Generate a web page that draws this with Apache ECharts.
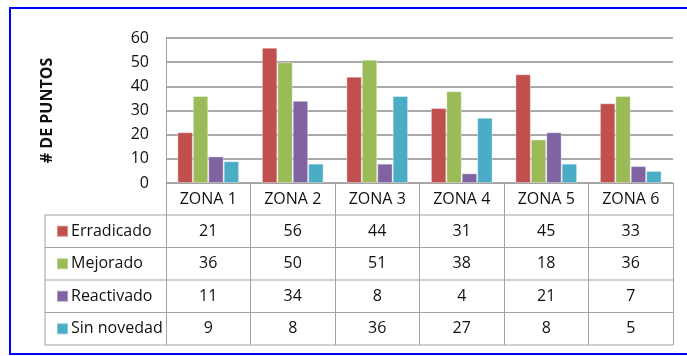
<!DOCTYPE html>
<html>
<head>
<meta charset="utf-8">
<script src="https://cdn.jsdelivr.net/npm/echarts@6/dist/echarts.min.js"></script>
<style>
  html, body { margin: 0; padding: 0; background: #fff; }
  #chart { width: 687px; height: 356px; }
</style>
</head>
<body>
<div id="chart"></div>
<script>
// Zones and the four point categories counted in each
const zones = ['ZONA 1', 'ZONA 2', 'ZONA 3', 'ZONA 4', 'ZONA 5', 'ZONA 6'];
const erradicado = [21, 56, 44, 31, 45, 33];
const mejorado = [36, 50, 51, 38, 18, 36];
const reactivado = [11, 34, 8, 4, 21, 7];
const sinNovedad = [9, 8, 36, 27, 8, 5];
const yTicks = [0, 10, 20, 30, 40, 50, 60];

const seriesNames = ['Erradicado', 'Mejorado', 'Reactivado', 'Sin novedad'];
const seriesValues = [erradicado, mejorado, reactivado, sinNovedad];
const colors = ['#C0504D', '#9BBB59', '#8064A2', '#4BACC6'];

const FONT = '"Open Sans", "Liberation Sans", sans-serif';
const TEXT = '#111';
const GRID_LINE = '#a3a3a3';

// Layout of plot and data table
const plotLeft = 166, plotRight = 673, plotTop = 38, plotBottom = 183;
const tableLeft = 45;
const headerBottom = 215;
const rowH = 32.5;

const chart = echarts.init(document.getElementById('chart'), null, { renderer: 'canvas' });

// One hidden-line category axis per table row, each printing that row's values
const valueAxes = seriesValues.map((vals, k) => ({
  type: 'category',
  data: zones,
  position: 'bottom',
  gridIndex: 0,
  axisLine: { show: false },
  axisTick: { show: false },
  axisLabel: {
    margin: headerBottom - plotBottom + rowH * k + rowH / 2,
    verticalAlign: 'middle',
    fontFamily: FONT,
    fontSize: 16,
    color: TEXT,
    formatter: (v, i) => String(vals[i])
  }
}));

const tableLines = [];
for (let k = 0; k <= seriesNames.length; k++) {
  const y = headerBottom + rowH * k;
  tableLines.push({
    type: 'line',
    shape: { x1: tableLeft, y1: y, x2: plotRight, y2: y },
    style: { stroke: GRID_LINE, lineWidth: 1 }
  });
}
tableLines.push({
  type: 'line',
  shape: { x1: tableLeft, y1: headerBottom, x2: tableLeft, y2: headerBottom + rowH * seriesNames.length },
  style: { stroke: GRID_LINE, lineWidth: 1 }
});

chart.setOption({
  animation: false,
  color: colors,
  grid: {
    left: plotLeft,
    right: 687 - plotRight,
    top: plotTop,
    bottom: 356 - plotBottom,
    containLabel: false
  },
  legend: {
    orient: 'vertical',
    left: 51,
    top: headerBottom + rowH / 2 - 15,
    itemWidth: 11,
    itemHeight: 11,
    itemGap: rowH - 20,
    icon: 'rect',
    selectedMode: false,
    data: seriesNames,
    textStyle: { fontFamily: FONT, fontSize: 16, color: TEXT, lineHeight: 20, padding: [0, 0, 0, -2] }
  },
  xAxis: [{
    type: 'category',
    data: zones,
    position: 'bottom',
    axisLine: { show: true, lineStyle: { color: GRID_LINE, width: 1 } },
    axisTick: {
      show: true,
      length: headerBottom - plotBottom + rowH * seriesNames.length,
      lineStyle: { color: GRID_LINE, width: 1 }
    },
    axisLabel: {
      margin: (headerBottom - plotBottom) / 2,
      verticalAlign: 'middle',
      fontFamily: FONT,
      fontSize: 16,
      color: TEXT
    }
  }].concat(valueAxes),
  yAxis: {
    type: 'value',
    min: yTicks[0],
    max: yTicks[yTicks.length - 1],
    interval: 10,
    name: '# DE PUNTOS',
    nameLocation: 'middle',
    nameRotate: 90,
    nameGap: 111,
    nameTextStyle: { fontFamily: FONT, fontSize: 16, fontWeight: 'bold', color: TEXT },
    axisLine: { show: true, lineStyle: { color: GRID_LINE, width: 1 } },
    axisTick: { show: false },
    splitLine: { show: true, lineStyle: { color: '#8c8c8c', width: 1.5 } },
    axisLabel: { margin: 17, fontFamily: FONT, fontSize: 16, color: TEXT }
  },
  series: seriesNames.map((name, k) => ({
    name: name,
    type: 'bar',
    xAxisIndex: 0,
    data: seriesValues[k],
    barGap: '0%',
    barCategoryGap: '27%',
    itemStyle: { color: colors[k], borderColor: 'rgba(255,255,255,0.35)', borderWidth: 1 }
  })),
  graphic: [{
    type: 'rect',
    shape: { x: 10, y: 8, width: 720, height: 346 },
    style: { fill: 'none', stroke: '#0000ff', lineWidth: 2 },
    silent: true
  }].concat(tableLines)
});
</script>
</body>
</html>
